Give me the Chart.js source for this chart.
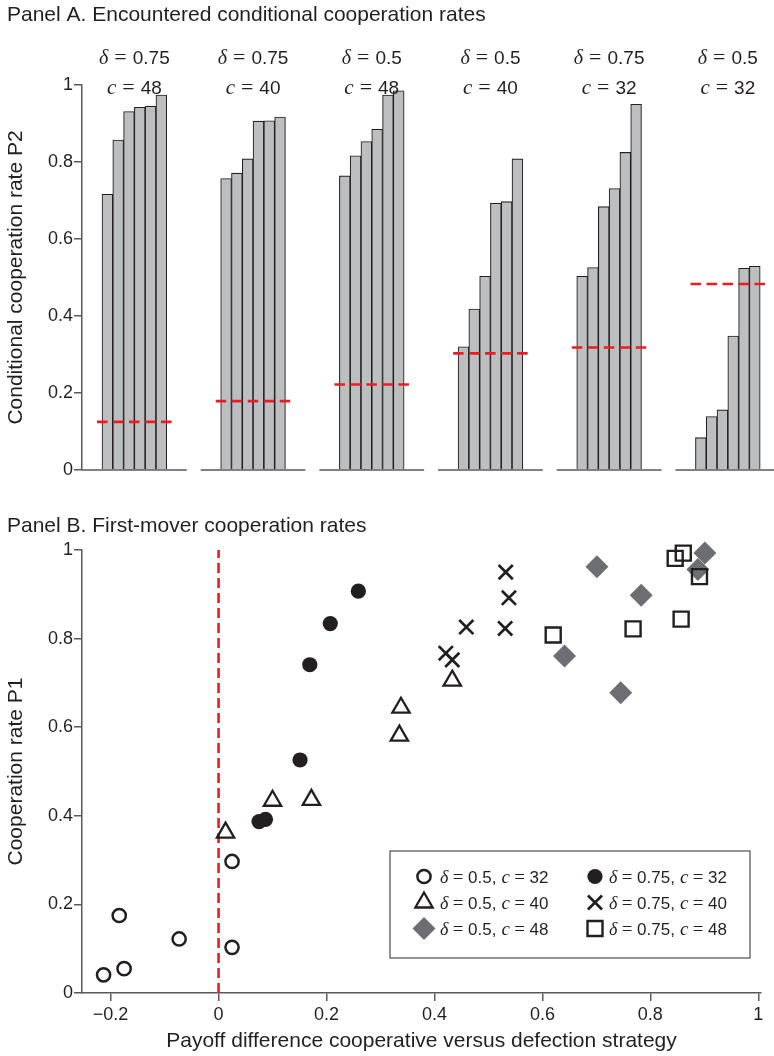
<!DOCTYPE html>
<html>
<head>
<meta charset="utf-8">
<script src="https://cdn.jsdelivr.net/npm/chart.js@4.4.1/dist/chart.umd.min.js"></script>
<style>
html,body{margin:0;padding:0;background:#fff;}
#wrap{position:relative;width:774px;height:1056px;overflow:hidden;}
#a{position:absolute;left:0;top:0;}
#b{position:absolute;left:0;top:500px;}
</style>
</head>
<body>
<div id="wrap">
<canvas id="a" width="774" height="500"></canvas>
<canvas id="b" width="774" height="556"></canvas>
</div>
<script>
// ---------------- Panel A data ----------------
const panelDelta = ['0.75', '0.75', '0.5', '0.5', '0.75', '0.5'];
const panelCost = ['48', '40', '48', '40', '32', '32'];
const barsD075C48 = [0.716, 0.857, 0.931, 0.942, 0.945, 0.974];
const barsD075C40 = [0.757, 0.771, 0.808, 0.906, 0.907, 0.917];
const barsD05C48 = [0.764, 0.816, 0.853, 0.885, 0.974, 0.985];
const barsD05C40 = [0.320, 0.418, 0.503, 0.693, 0.697, 0.808];
const barsD075C32 = [0.503, 0.526, 0.684, 0.731, 0.825, 0.950];
const barsD05C32 = [0.084, 0.139, 0.156, 0.348, 0.524, 0.529];
const thresholdsA = [0.125, 0.179, 0.222, 0.303, 0.318, 0.483];
const yTickValuesA = [0, 0.2, 0.4, 0.6, 0.8, 1];
const yTickLabelsA = ['0', '0.2', '0.4', '0.6', '0.8', '1'];

// ---------------- Panel B data ----------------
const seriesDelta = ['0.5', '0.5', '0.5', '0.75', '0.75', '0.75'];
const seriesCost = ['32', '40', '48', '32', '40', '48'];
const xD05C32 = [-0.213, -0.175, -0.184, -0.073, 0.025, 0.025];
const yD05C32 = [0.041, 0.055, 0.175, 0.122, 0.103, 0.297];
const xD05C40 = [0.013, 0.100, 0.172, 0.335, 0.338, 0.433];
const yD05C40 = [0.362, 0.434, 0.436, 0.581, 0.644, 0.705];
const xD05C48 = [0.641, 0.701, 0.745, 0.783, 0.888, 0.901];
const yD05C48 = [0.761, 0.962, 0.678, 0.898, 0.956, 0.993];
const xD075C32 = [0.075, 0.087, 0.151, 0.169, 0.207, 0.259];
const yD075C32 = [0.387, 0.392, 0.526, 0.741, 0.834, 0.907];
const xD075C40 = [0.421, 0.433, 0.459, 0.531, 0.532, 0.538];
const yD075C40 = [0.767, 0.752, 0.826, 0.823, 0.950, 0.892];
const xD075C48 = [0.620, 0.768, 0.846, 0.857, 0.861, 0.891];
const yD075C48 = [0.808, 0.822, 0.981, 0.844, 0.993, 0.940];
const xTickValuesB = [-0.2, 0, 0.2, 0.4, 0.6, 0.8, 1];
const xTickLabelsB = ['\u22120.2', '0', '0.2', '0.4', '0.6', '0.8', '1'];
const yTickValuesB = [0, 0.2, 0.4, 0.6, 0.8, 1];
const yTickLabelsB = ['0', '0.2', '0.4', '0.6', '0.8', '1'];
const zeroLineX = [0, 0];
const zeroLineY = [0, 1];

// ---------------- styling ----------------
const SANS = "'Liberation Sans', Arial, Helvetica, sans-serif";
const SERIF = "'Liberation Serif', 'Times New Roman', serif";
const INK = '#231f20';
const AXIS = '#58595b';
const RED = '#ed1c24';
const BARFILL = '#bcbec0';
const DIAMOND = '#6d6e71';

Chart.defaults.font.family = SANS;
Chart.defaults.color = INK;

function drawRich(ctx, parts, cx, baseline, align) {
  let total = 0;
  parts.forEach(p => {
    if (p.gap !== undefined) { p.w = p.gap; }
    else { ctx.font = p.f; p.w = ctx.measureText(p.t).width; }
    total += p.w;
  });
  let x = align === 'left' ? cx : cx - total / 2;
  ctx.textAlign = 'left';
  ctx.textBaseline = 'alphabetic';
  parts.forEach(p => {
    if (p.gap === undefined) { ctx.font = p.f; ctx.fillText(p.t, x, baseline); }
    x += p.w;
  });
}

// ---------------- Panel A ----------------
const GROUP_STEP = 11;
const panelBars = [barsD075C48, barsD075C40, barsD05C48, barsD05C40, barsD075C32, barsD05C32];
const barData = [];
const baseData = [];
const redSets = [];
panelBars.forEach((vals, g) => {
  const s = g * GROUP_STEP;
  vals.forEach((v, i) => barData.push({ x: s + i + 0.5, y: v }));
  baseData.push({ x: s - 1.854, y: 0 }, { x: s + vals.length + 1.854, y: 0 }, { x: s + vals.length + 2.5, y: null });
  redSets.push({
    type: 'line',
    data: [{ x: s - 0.46, y: thresholdsA[g] }, { x: s + vals.length + 0.55, y: thresholdsA[g] }],
    borderColor: RED, borderWidth: 2.6, borderDash: [10.5, 5.5], pointRadius: 0,
    order: 0, clip: false
  });
});

const headerPlugin = {
  id: 'panelHeaders',
  afterDraw(chart) {
    const ctx = chart.ctx;
    const xs = chart.scales.x;
    ctx.save();
    ctx.fillStyle = INK;
    panelBars.forEach((vals, g) => {
      const cx = xs.getPixelForValue(g * GROUP_STEP + vals.length / 2);
      drawRich(ctx, [
        { t: '\u03B4', f: 'italic 20px ' + SERIF }, { gap: 6 },
        { t: '=', f: '22px ' + SERIF }, { gap: 6 },
        { t: panelDelta[g], f: '19px ' + SANS }
      ], cx, 63.5);
      drawRich(ctx, [
        { t: 'c', f: 'italic 21px ' + SERIF }, { gap: 6 },
        { t: '=', f: '22px ' + SERIF }, { gap: 6 },
        { t: panelCost[g], f: '19px ' + SANS }
      ], cx, 94);
    });
    ctx.restore();
  }
};

new Chart(document.getElementById('a'), {
  type: 'bar',
  data: {
    datasets: [
      ...redSets,
      { type: 'line', data: baseData, borderColor: AXIS, borderWidth: 1.5, pointRadius: 0, spanGaps: false, order: 1, clip: false },
      { type: 'bar', data: barData, backgroundColor: BARFILL, borderColor: INK, borderWidth: 1.1,
        borderSkipped: 'start', barPercentage: 1, categoryPercentage: 1, grouped: false, order: 2 }
    ]
  },
  options: {
    responsive: false, animation: false, events: [],
    layout: { padding: { left: 7, right: 0, top: 0, bottom: 30 } },
    plugins: {
      legend: { display: false }, tooltip: { enabled: false },
      title: { display: true, text: 'Panel A. Encountered conditional cooperation rates', align: 'start',
        color: INK, font: { family: SANS, size: 21, weight: 'normal' }, padding: { top: 3, bottom: 56.8 } }
    },
    scales: {
      x: { type: 'linear', min: -1.854, max: 62.28, offset: false, display: false },
      y: {
        min: 0, max: 1,
        afterBuildTicks: s => { s.ticks = yTickValuesA.map(v => ({ value: v })); },
        afterFit: s => { s.width = 75; },
        ticks: { color: INK, font: { family: SANS, size: 18 }, padding: 1, callback: (v, i) => yTickLabelsA[i] },
        grid: { drawOnChartArea: false, drawTicks: true, tickLength: 8, color: AXIS, lineWidth: 1.5 },
        border: { display: true, color: AXIS, width: 1.5 },
        title: { display: true, text: 'Conditional cooperation rate P2', color: INK,
          font: { family: SANS, size: 21 }, padding: { top: -3, bottom: 0 } }
      }
    }
  },
  plugins: [headerPlugin]
});

// ---------------- Panel B ----------------
function pts(xs, ys) { return xs.map((x, i) => ({ x: x, y: ys[i] })); }
const seriesB = [
  { data: pts(xD05C32, yD05C32), pointStyle: 'circle', pointRadius: 6.6, pointBorderWidth: 2.5,
    backgroundColor: 'rgba(0,0,0,0)', borderColor: INK, order: 6 },
  { data: pts(xD05C40, yD05C40), pointStyle: 'triangle', pointRadius: 10, pointBorderWidth: 2.3,
    backgroundColor: 'rgba(0,0,0,0)', borderColor: INK, order: 5 },
  { data: pts(xD05C48, yD05C48), pointStyle: 'rectRot', pointRadius: 11.5, pointBorderWidth: 0,
    backgroundColor: DIAMOND, borderColor: DIAMOND, order: 4 },
  { data: pts(xD075C32, yD075C32), pointStyle: 'circle', pointRadius: 7.6, pointBorderWidth: 0,
    backgroundColor: INK, borderColor: INK, order: 3 },
  { data: pts(xD075C40, yD075C40), pointStyle: 'crossRot', pointRadius: 10, pointBorderWidth: 2.7,
    backgroundColor: INK, borderColor: INK, order: 2 },
  { data: pts(xD075C48, yD075C48), pointStyle: 'rect', pointRadius: 10.6, pointBorderWidth: 2.4,
    backgroundColor: 'rgba(0,0,0,0)', borderColor: INK, order: 1 }
];
seriesB.forEach((s, i) => {
  s.type = 'scatter';
  s.label = '\u03B4 = ' + seriesDelta[i] + ', c = ' + seriesCost[i];
  s.clip = false;
});

function markerFallback(ctx, style, r, x, y) {
  ctx.beginPath();
  if (style === 'circle') { ctx.arc(x, y, r, 0, Math.PI * 2); }
  else if (style === 'triangle') {
    ctx.moveTo(x, y - r); ctx.lineTo(x + r * 0.866, y + r / 2); ctx.lineTo(x - r * 0.866, y + r / 2); ctx.closePath();
  } else if (style === 'rectRot') {
    ctx.moveTo(x - r, y); ctx.lineTo(x, y - r); ctx.lineTo(x + r, y); ctx.lineTo(x, y + r); ctx.closePath();
  } else if (style === 'rect') {
    const s = r * Math.SQRT1_2; ctx.rect(x - s, y - s, 2 * s, 2 * s);
  } else if (style === 'crossRot') {
    const s = r * Math.SQRT1_2; ctx.moveTo(x - s, y - s); ctx.lineTo(x + s, y + s); ctx.moveTo(x - s, y + s); ctx.lineTo(x + s, y - s);
  }
  ctx.fill();
  if (ctx.lineWidth > 0) ctx.stroke();
}

const boxLegendPlugin = {
  id: 'boxLegend',
  afterDraw(chart) {
    const ctx = chart.ctx;
    const ca = chart.chartArea;
    const w = 360, h = 107;
    const right = ca.right - 11, bottom = ca.bottom - 35;
    const left = right - w, top = bottom - h;
    ctx.save();
    ctx.fillStyle = '#fff';
    ctx.fillRect(left, top, w, h);
    ctx.strokeStyle = AXIS;
    ctx.lineWidth = 1.3;
    ctx.strokeRect(left, top, w, h);
    const rowBase = [31.5, 57.5, 83.5];
    const colMarker = [34, 205];
    const colText = [50, 219];
    seriesB.forEach((s, k) => {
      const col = Math.floor(k / 3), row = k % 3;
      const my = top + rowBase[row] - 6;
      const mx = left + colMarker[col];
      ctx.fillStyle = s.backgroundColor;
      ctx.strokeStyle = s.borderColor;
      ctx.lineWidth = s.pointBorderWidth;
      if (Chart.helpers && Chart.helpers.drawPoint) {
        Chart.helpers.drawPoint(ctx, { pointStyle: s.pointStyle, radius: s.pointRadius, rotation: 0, borderWidth: s.pointBorderWidth }, mx, my);
      } else {
        markerFallback(ctx, s.pointStyle, s.pointRadius, mx, my);
      }
      ctx.fillStyle = INK;
      drawRich(ctx, [
        { t: '\u03B4', f: 'italic 18px ' + SERIF }, { gap: 4.5 },
        { t: '=', f: '19px ' + SERIF }, { gap: 4.5 },
        { t: seriesDelta[k] + ',', f: '17px ' + SANS }, { gap: 5 },
        { t: 'c', f: 'italic 19px ' + SERIF }, { gap: 4.5 },
        { t: '=', f: '19px ' + SERIF }, { gap: 4.5 },
        { t: seriesCost[k], f: '17px ' + SANS }
      ], left + colText[col], top + rowBase[row], 'left');
    });
    ctx.restore();
  }
};

new Chart(document.getElementById('b'), {
  type: 'scatter',
  data: {
    datasets: [
      { type: 'line', data: pts(zeroLineX, zeroLineY), borderColor: RED, borderWidth: 2.6, borderDash: [10, 5],
        pointRadius: 0, order: 10, clip: false },
      ...seriesB
    ]
  },
  options: {
    responsive: false, animation: false, events: [],
    layout: { padding: { left: 7, right: 11, top: 0, bottom: 0 } },
    plugins: {
      legend: { display: false }, tooltip: { enabled: false },
      title: { display: true, text: 'Panel B. First-mover cooperation rates', align: 'start',
        color: INK, font: { family: SANS, size: 21, weight: 'normal' }, padding: { top: 13.2, bottom: 11.6 } }
    },
    scales: {
      x: {
        type: 'linear', min: -0.253, max: 1.005,
        afterBuildTicks: s => { s.ticks = xTickValuesB.map(v => ({ value: v })); },
        afterFit: s => { s.height = 63; },
        ticks: { color: INK, font: { family: SANS, size: 18 }, padding: 3, maxRotation: 0, autoSkip: false,
          callback: (v, i) => xTickLabelsB[i] },
        grid: { drawOnChartArea: false, drawTicks: true, tickLength: 8, color: AXIS, lineWidth: 1.5 },
        border: { display: true, color: AXIS, width: 1.5 },
        title: { display: true, text: 'Payoff difference cooperative versus defection strategy', color: INK,
          font: { family: SANS, size: 21 }, padding: { top: 0, bottom: 2.4 } }
      },
      y: {
        min: 0, max: 1,
        afterBuildTicks: s => { s.ticks = yTickValuesB.map(v => ({ value: v })); },
        afterFit: s => { s.width = 75; },
        ticks: { color: INK, font: { family: SANS, size: 18 }, padding: 1, callback: (v, i) => yTickLabelsB[i] },
        grid: { drawOnChartArea: false, drawTicks: true, tickLength: 8, color: AXIS, lineWidth: 1.5 },
        border: { display: true, color: AXIS, width: 1.5 },
        title: { display: true, text: 'Cooperation rate P1', color: INK,
          font: { family: SANS, size: 21 }, padding: { top: -3, bottom: 0 } }
      }
    }
  },
  plugins: [boxLegendPlugin]
});
</script>
</body>
</html>
